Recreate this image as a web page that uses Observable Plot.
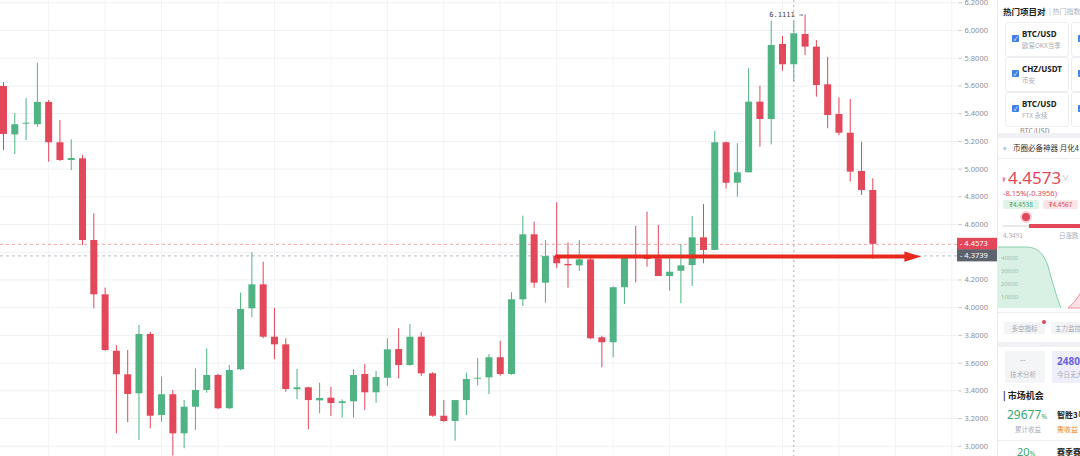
<!DOCTYPE html>
<html><head><meta charset="utf-8">
<script src="https://cdn.jsdelivr.net/npm/d3@7"></script>
<script src="https://cdn.jsdelivr.net/npm/@observablehq/plot@0.6"></script>
<style>
body{margin:0;background:#fff;font-family:"Noto Sans CJK SC","Noto Sans",sans-serif;}
#wrap{position:relative;width:1080px;height:456px;overflow:hidden;background:#fff;}
#chart{position:absolute;left:0;top:0;}
#panel{position:absolute;left:997px;top:0;width:83px;height:456px;background:#fff;border-left:1px solid #e9ebef;overflow:hidden;}
#panel div{position:absolute;white-space:nowrap;}
.card{border:1px solid #eceef2;border-radius:3px;width:62px;height:33px;background:#fff;}
.cb{width:7px;height:7px;background:#3f7fe6;border-radius:1px;left:6px;top:12px;color:#fff;font-size:6px;line-height:7px;text-align:center;}
.ct{left:16px;top:5px;font-size:8px;font-weight:700;color:#222;font-family:"Noto Sans","Noto Sans CJK SC",sans-serif;}
.cs{left:16px;top:17px;font-size:6.5px;color:#a9adb5;}
.band{left:0;width:83px;background:#f0f1f4;}
</style></head>
<body>
<div id="wrap">
<div id="chart"></div>
<div id="panel">
  <div style="left:5px;top:5px;font-size:8.5px;font-weight:700;color:#222;">热门项目对</div>
  <div style="left:51px;top:6px;font-size:7px;color:#b0b4bb;">| 热门指数</div>

  <div class="card" style="left:7px;top:22px;"><div class="cb">✓</div><div class="ct">BTC/USD</div><div class="cs">欧易OKX当季</div></div>
  <div class="card" style="left:7px;top:57px;"><div class="cb">✓</div><div class="ct">CHZ/USDT</div><div class="cs">币安</div></div>
  <div class="card" style="left:7px;top:92px;"><div class="cb">✓</div><div class="ct">BTC/USD</div><div class="cs">FTX 永续</div></div>
  <div class="card" style="left:73px;top:22px;"><div class="cb">✓</div></div>
  <div class="card" style="left:73px;top:57px;"><div class="cb">✓</div></div>
  <div class="card" style="left:73px;top:92px;"><div class="cb">✓</div></div>
  <div style="left:22px;top:126px;font-size:7px;color:#888;">BTC/USD</div>
  <div class="band" style="top:133px;height:5px;"></div>

  <div style="left:5px;top:142px;font-size:7.5px;color:#3f7fe6;">«</div>
  <div style="left:15px;top:142px;font-size:7.5px;color:#333;">币圈必备神器 月化4</div>
  <div style="left:0;top:158px;width:83px;height:1px;background:#eceef2;"></div>

  <div style="left:4px;top:176px;font-size:6px;color:#e2475a;font-family:'DejaVu Sans',sans-serif;">₮</div>
  <div style="left:10px;top:166px;font-size:17px;color:#e2475a;font-family:'Noto Sans',sans-serif;">4.4573</div>
  <div style="left:64px;top:172px;font-size:7px;color:#aaa;">∨</div>
  <div style="left:5px;top:188px;font-size:7.5px;color:#e2475a;font-family:'Noto Sans',sans-serif;">-8.15%(-0.3956)</div>
  <div style="left:5px;top:200px;width:36px;height:9px;background:#dff3e8;border-radius:2px;font-size:6.5px;line-height:9px;color:#3aa872;text-align:center;">₮4.4538</div>
  <div style="left:45px;top:200px;width:35px;height:9px;background:#fde4e7;border-radius:2px;font-size:6.5px;line-height:9px;color:#e2475a;text-align:center;">₮4.4567</div>
  <div style="left:5px;top:225px;width:26px;height:2px;background:#e6e8ec;"></div>
  <div style="left:31px;top:224px;width:52px;height:4px;background:#e2475a;"></div>
  <div style="left:24px;top:213px;width:8px;height:8px;border-radius:50%;background:#e2475a;box-shadow:0 0 0 2px #fbd3d8;"></div>
  <div style="left:5px;top:230px;font-size:6.5px;color:#a9adb5;">4.3491</div>
  <div style="left:61px;top:230px;font-size:6.5px;color:#a9adb5;">日涨跌</div>

  <svg style="position:absolute;left:0;top:240px;" width="83" height="70">
    <path d="M0,7 L30,7 C40,8 46,14 50,26 C54,40 58,56 63,68 L0,68 Z" fill="#d9f1e4" stroke="none"/>
    <path d="M0,7 L30,7 C40,8 46,14 50,26 C54,40 58,56 63,68" fill="none" stroke="#86d0aa" stroke-width="1"/>
    <path d="M70,68 C75,64 80,58 83,52 L83,68 Z" fill="#fde2e5" stroke="#ef8f9b" stroke-width="1"/>
    <g font-size="6" fill="#a2bcae" font-family="Noto Sans, sans-serif">
      <text x="3" y="20">40000</text><text x="3" y="33">30000</text><text x="3" y="46">20000</text><text x="3" y="59">10000</text>
    </g>
  </svg>
  <div style="left:0;top:312px;width:83px;height:1px;background:#eceef2;"></div>

  <div style="left:6px;top:322px;width:41px;height:12px;background:#f3f4f6;border-radius:2px;font-size:6.5px;line-height:12px;color:#a3a7ae;text-align:center;">多空指标</div>
  <div style="left:44px;top:320px;width:4px;height:4px;border-radius:50%;background:#e2475a;"></div>
  <div style="left:53px;top:322px;width:40px;height:12px;background:#f3f4f6;border-radius:2px;font-size:6.5px;line-height:12px;color:#a3a7ae;padding-left:4px;">主力监控</div>
  <div class="band" style="top:342px;height:5px;"></div>

  <div style="left:7px;top:351px;width:40px;height:32px;background:#f4f5f7;border-radius:2px;"></div>
  <div style="left:22px;top:354px;font-size:8px;color:#999;">--</div>
  <div style="left:12px;top:369px;font-size:6.5px;color:#a9adb5;">技术分析</div>
  <div style="left:54px;top:351px;width:40px;height:32px;background:#eeeefc;border-radius:2px;"></div>
  <div style="left:59px;top:354px;font-size:10px;font-weight:700;color:#6b5fe0;font-family:'Noto Sans',sans-serif;">2480</div>
  <div style="left:59px;top:369px;font-size:6.5px;color:#a9adb5;">今日无大</div>

  <div style="left:5px;top:389px;font-size:9px;font-weight:700;color:#222;">| 市场机会</div>
  <div style="left:9px;top:406px;font-size:12px;color:#3aa872;font-family:'Noto Sans',sans-serif;">29677<span style="font-size:7px">%</span></div>
  <div style="left:17px;top:424px;font-size:6.5px;color:#a9adb5;">累计收益</div>
  <div style="left:59px;top:409px;font-size:8px;font-weight:700;color:#222;">智胜3号</div>
  <div style="left:59px;top:424px;font-size:7px;color:#f08a24;">需收益</div>
  <div style="left:0;top:440px;width:83px;height:1px;background:#eceef2;"></div>
  <div style="left:19px;top:444px;font-size:11px;color:#3aa872;font-family:'Noto Sans',sans-serif;">20<span style="font-size:7px">%</span></div>
  <div style="left:59px;top:446px;font-size:8px;font-weight:700;color:#222;">赛季赛</div>
</div>
</div>
<script>
// OHLC values (index 0..77)
const openVals  = [5.596,5.247,5.324,5.320,5.481,5.190,5.062,5.074,4.485,4.093,3.686,3.516,3.379,3.807,3.222,3.372,3.090,3.282,3.403,3.511,3.271,3.552,3.992,4.165,3.787,3.732,3.408,3.422,3.328,3.347,3.309,3.321,3.518,3.386,3.491,3.698,3.583,3.787,3.523,3.217,3.179,3.330,3.484,3.494,3.639,3.518,4.057,4.526,4.177,4.369,4.312,4.302,4.345,3.783,3.747,4.144,4.372,4.364,4.353,4.225,4.263,4.304,4.504,4.413,5.190,4.898,4.973,5.483,5.358,5.899,5.753,5.971,5.880,5.608,5.394,5.259,4.983,4.846];
const highVals  = [5.625,5.401,5.509,5.764,5.495,5.351,5.211,5.098,4.677,4.141,3.727,3.691,3.872,3.823,3.499,3.403,3.330,3.559,3.703,3.520,3.583,4.105,4.396,4.328,3.996,3.776,3.554,3.426,3.455,3.426,3.335,3.552,3.590,3.542,3.776,3.848,3.879,3.819,3.530,3.330,3.330,3.527,3.633,3.662,3.758,4.108,4.660,4.617,4.485,4.757,4.468,4.485,4.360,3.794,4.150,4.370,4.588,4.689,4.593,4.353,4.456,4.658,4.745,5.273,5.195,5.183,5.724,5.598,6.067,5.957,6.067,6.1111,5.928,5.807,5.514,5.502,5.194,4.930];
const lowVals   = [5.134,5.105,5.206,5.302,5.050,5.055,4.990,4.449,3.992,3.685,3.090,3.170,3.042,3.126,3.174,2.930,2.982,3.114,3.383,3.265,3.265,3.545,3.927,3.776,3.624,3.390,3.336,3.119,3.235,3.215,3.203,3.203,3.258,3.311,3.434,3.487,3.578,3.504,3.210,3.172,3.037,3.222,3.435,3.374,3.506,3.512,4.009,4.141,4.032,4.281,4.141,4.261,3.770,3.566,3.639,4.023,4.180,4.292,4.225,4.119,4.028,4.153,4.317,4.413,4.857,4.797,4.973,5.158,5.175,5.706,5.627,5.820,5.519,5.291,5.242,4.906,4.810,4.3491];
const closeVals = [5.250,5.320,5.331,5.481,5.190,5.062,5.076,4.485,4.093,3.691,3.516,3.374,3.807,3.217,3.372,3.090,3.282,3.403,3.511,3.271,3.547,3.987,4.165,3.787,3.732,3.410,3.422,3.330,3.345,3.309,3.321,3.511,3.386,3.496,3.696,3.583,3.787,3.523,3.217,3.179,3.330,3.482,3.491,3.639,3.518,4.057,4.526,4.177,4.369,4.317,4.302,4.345,3.776,3.747,4.144,4.364,4.360,4.348,4.225,4.256,4.302,4.504,4.413,5.190,4.898,4.973,5.483,5.358,5.892,5.753,5.976,5.880,5.603,5.387,5.259,4.978,4.846,4.4573];

const yTickVals = [3.0,3.2,3.4,3.6,3.8,4.0,4.2,4.4,4.6,4.8,5.0,5.2,5.4,5.6,5.8,6.0,6.2];
const hiddenTick = 4.4; // covered by the price tags in the reference
const lastPrice = 4.4573;
const markPrice = 4.3739;
const maxHigh = [{i: 71, v: 6.1111}];
const crosshairIndex = [70];
const gridEvery = 5, gridStart = 4;
const annotArrow = [{from: 48.9, to: 81.3, price: 4.369}];

const GREEN = "#4fb383", RED = "#e2475a";
const data = openVals.map((o, i) => ({i, o, h: highVals[i], l: lowVals[i], c: closeVals[i]}));
const col = d => d.c >= d.o ? GREEN : RED;
const xGrid = d3.range(gridStart, 85, gridEvery);

const arrowHead = {
  draw(ctx, size) {
    const s = Math.sqrt(size);
    ctx.moveTo(s * 0.6, 0);
    ctx.lineTo(-s * 0.6, -s * 0.36);
    ctx.lineTo(-s * 0.6, s * 0.36);
    ctx.closePath();
  }
};

const plot = Plot.plot({
  width: 997, height: 456,
  marginLeft: 0, marginRight: 40, marginTop: 0, marginBottom: 0,
  x: {domain: [-0.266, 84.5], axis: null},
  y: {domain: [2.9264, 6.2165], axis: null},
  style: {background: "#fff", fontFamily: "'Noto Sans', sans-serif", color: "#8c9099"},
  marks: [
    Plot.gridY(yTickVals, {stroke: "#eef0f3", strokeOpacity: 1}),
    Plot.gridX(xGrid, {stroke: "#f2f3f5", strokeOpacity: 1}),
    Plot.axisY(yTickVals.filter(v => v !== hiddenTick), {anchor: "right", tickSize: 4, tickPadding: 3, fontSize: 7.5,
      tickFormat: d3.format(".4f"), stroke: "#c9ccd2", fill: "#8c9099"}),
    Plot.ruleX(crosshairIndex, {stroke: "#aab0b8", strokeDasharray: "2,3"}),
    Plot.ruleY([lastPrice], {stroke: "#f0a2ac", strokeDasharray: "3,3"}),
    Plot.ruleY([markPrice], {stroke: "#b9bdc4", strokeDasharray: "3,3"}),
    Plot.ruleX(data, {x: "i", y1: "l", y2: "h", stroke: col, strokeWidth: 1}),
    Plot.ruleX(data, {x: "i", y1: "o", y2: "c", stroke: col, strokeWidth: 7}),
    Plot.text(maxHigh, {x: "i", y: "v", text: d => d.v.toFixed(4) + " →", textAnchor: "end", dx: -2,
      fontSize: 7, fill: "#444", fontFamily: "'DejaVu Sans Mono', monospace"}),
    Plot.ruleY(annotArrow, {y: "price", x1: "from", x2: d => d.to - 1.1, stroke: "#e8291d", strokeWidth: 4}),
    Plot.dot(annotArrow, {x: "to", y: "price", symbol: arrowHead, r: 8, fill: "#e8291d", stroke: "none", dx: -8.5})
  ]
});
document.getElementById("chart").appendChild(plot);

// price tags on the right axis, positioned with the plot's own y scale
const ys = plot.scale("y");
const svg = d3.select(plot);
[[lastPrice, RED], [markPrice, "#5d636d"]].forEach(([v, fill]) => {
  const y = ys.apply(v);
  const g = svg.append("g").attr("text-anchor", "start");
  g.append("rect").attr("x", 957).attr("y", y - 6).attr("width", 40).attr("height", 12).attr("fill", fill);
  g.append("text").attr("x", 960).attr("y", y).attr("dy", "0.35em").attr("fill", "#fff")
    .attr("text-anchor", "start")
    .attr("font-size", 7.5).attr("font-family", "'Noto Sans', sans-serif").text("- " + v.toFixed(4));
});
</script>
</body></html>
